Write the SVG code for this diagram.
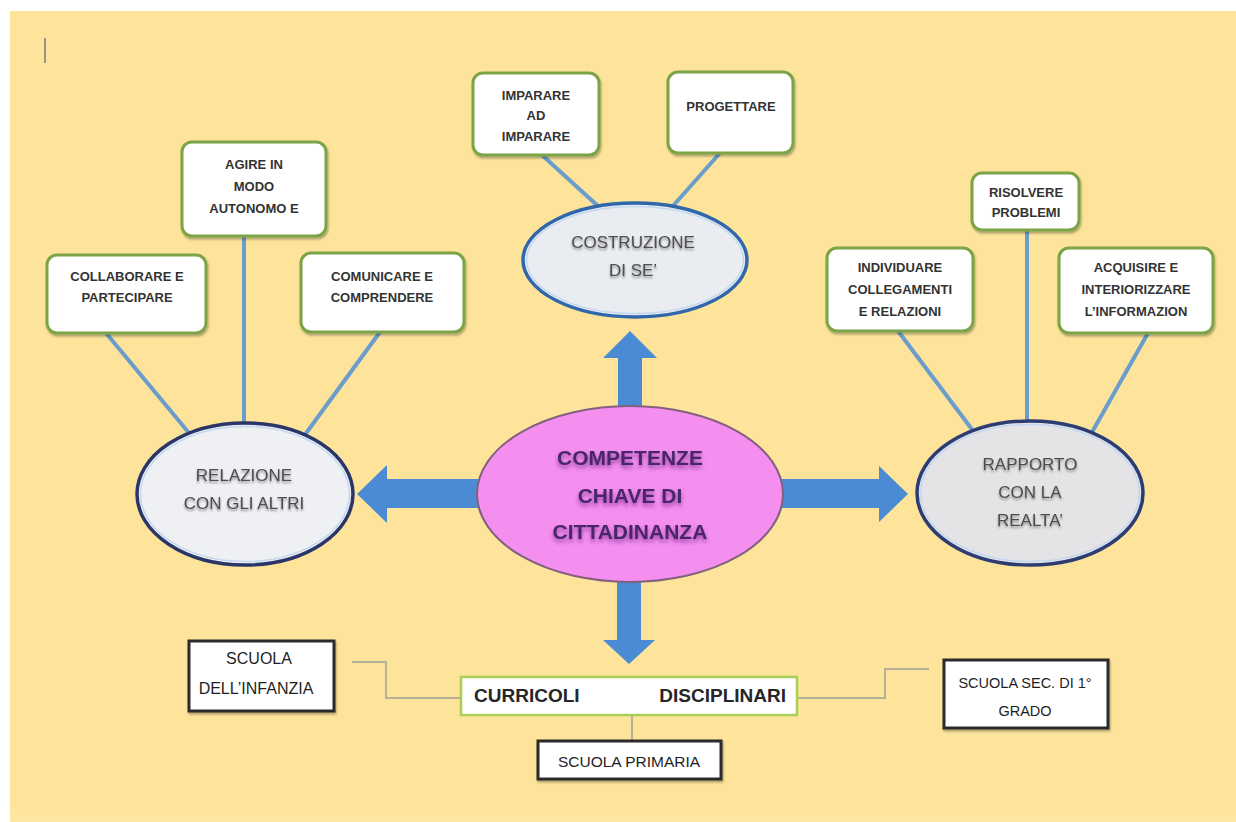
<svg xmlns="http://www.w3.org/2000/svg" width="1236" height="822" viewBox="0 0 1236 822">
  <style>
    text { font-family: "Liberation Sans", Arial, sans-serif; text-anchor: middle; }
    .bx { fill: #ffffff; stroke: #7BA446; stroke-width: 3; }
    .bt { font-size: 13px; font-weight: bold; fill: #333333; }
    .et { font-size: 17px; fill: #4e4e4e; }
    .ct { font-size: 21px; font-weight: bold; fill: #4A2869; }
    .sb { fill: #ffffff; stroke: #2a2a2a; stroke-width: 3; }
    .st { font-size: 16px; fill: #1e1e1e; }
    .ln { stroke: #6A9DCC; stroke-width: 4; fill: none; stroke-linecap: butt; }
    .gl { stroke: #B6B09A; stroke-width: 2; fill: none; }
    .ar { fill: #4A8BD3; }
  </style>
  <defs>
    <filter id="sh" x="-10%" y="-10%" width="130%" height="140%">
      <feDropShadow dx="1" dy="2" stdDeviation="1.2" flood-color="#000" flood-opacity="0.3"/>
    </filter>
    <filter id="tsh" x="-10%" y="-30%" width="120%" height="180%">
      <feDropShadow dx="0" dy="2" stdDeviation="1.3" flood-color="#777" flood-opacity="0.8"/>
    </filter>
    <filter id="csh" x="-10%" y="-30%" width="120%" height="180%">
      <feDropShadow dx="0" dy="3" stdDeviation="2" flood-color="#7A2C8E" flood-opacity="0.75"/>
    </filter>
  </defs>

  <rect x="0" y="0" width="1236" height="822" fill="#ffffff"/>
  <rect x="10" y="11" width="1226" height="811" fill="#FDE49A"/>
  <rect x="10" y="810" width="1226" height="12" fill="#FEE6A0"/>
  <line x1="45" y1="38" x2="45" y2="63" stroke="#7a7a7a" stroke-width="1.5"/>

  <g id="connectors">
    <line class="ln" x1="106" y1="333" x2="189" y2="433"/>
    <line class="ln" x1="244" y1="236" x2="244" y2="424"/>
    <line class="ln" x1="380" y1="332" x2="304" y2="436"/>
    <line class="ln" x1="542" y1="155" x2="599" y2="207"/>
    <line class="ln" x1="720" y1="153" x2="672" y2="207"/>
    <line class="ln" x1="898" y1="331" x2="974" y2="432"/>
    <line class="ln" x1="1027" y1="230" x2="1027" y2="422"/>
    <line class="ln" x1="1148" y1="333" x2="1091" y2="434"/>
    <polygon class="ar" points="357,494 387,465 387,479 485,479 485,508 387,508 387,523"/>
    <polygon class="ar" points="775,479 879,479 879,466 908,494 879,522 879,508 775,508"/>
    <polygon class="ar" points="630,331 657,358 642,358 642,415 618,415 618,358 603,358"/>
    <polygon class="ar" points="617,575 641,575 641,640 655,640 629,664 603,640 617,640"/>
    <polyline class="gl" points="352,662 386,662 386,698 461,698"/>
    <polyline class="gl" points="797,698 885,698 885,669 929,669"/>
    <line class="gl" x1="632" y1="715" x2="632" y2="741"/>
  </g>

  <g id="collaborare">
    <rect class="bx" x="47" y="255" width="159" height="78" rx="10" filter="url(#sh)"/>
    <text class="bt" x="127" y="281">COLLABORARE E</text>
    <text class="bt" x="127" y="302">PARTECIPARE</text>
  </g>
  <g id="agire">
    <rect class="bx" x="182" y="142" width="144" height="94" rx="10" filter="url(#sh)"/>
    <text class="bt" x="254" y="169">AGIRE IN</text>
    <text class="bt" x="254" y="191">MODO</text>
    <text class="bt" x="254" y="213">AUTONOMO E</text>
  </g>
  <g id="comunicare">
    <rect class="bx" x="301" y="253" width="163" height="79" rx="10" filter="url(#sh)"/>
    <text class="bt" x="382" y="281">COMUNICARE E</text>
    <text class="bt" x="382" y="302">COMPRENDERE</text>
  </g>
  <g id="imparare">
    <rect class="bx" x="473" y="73" width="126" height="82" rx="10" filter="url(#sh)"/>
    <text class="bt" x="536" y="100">IMPARARE</text>
    <text class="bt" x="536" y="120">AD</text>
    <text class="bt" x="536" y="141">IMPARARE</text>
  </g>
  <g id="progettare">
    <rect class="bx" x="668" y="72" width="125" height="81" rx="10" filter="url(#sh)"/>
    <text class="bt" x="731" y="111">PROGETTARE</text>
  </g>
  <g id="individuare">
    <rect class="bx" x="827" y="248" width="146" height="83" rx="10" filter="url(#sh)"/>
    <text class="bt" x="900" y="272">INDIVIDUARE</text>
    <text class="bt" x="900" y="294">COLLEGAMENTI</text>
    <text class="bt" x="900" y="316">E RELAZIONI</text>
  </g>
  <g id="risolvere">
    <rect class="bx" x="972" y="173" width="107" height="57" rx="10" filter="url(#sh)"/>
    <text class="bt" x="1026" y="197">RISOLVERE</text>
    <text class="bt" x="1026" y="217">PROBLEMI</text>
  </g>
  <g id="acquisire">
    <rect class="bx" x="1059" y="248" width="154" height="85" rx="10" filter="url(#sh)"/>
    <text class="bt" x="1136" y="272">ACQUISIRE E</text>
    <text class="bt" x="1136" y="294">INTERIORIZZARE</text>
    <text class="bt" x="1136" y="316">L’INFORMAZION</text>
  </g>

  <g id="relazione">
    <ellipse cx="245" cy="494" rx="108" ry="71" fill="#EEF0F4" stroke="#2B3668" stroke-width="3.5"/>
    <ellipse cx="245" cy="494" rx="104.5" ry="67.5" fill="none" stroke="#C3D8F0" stroke-width="1.5"/>
    <g filter="url(#tsh)">
      <text class="et" x="244" y="481">RELAZIONE</text>
      <text class="et" x="244" y="509">CON GLI ALTRI</text>
    </g>
  </g>
  <g id="costruzione">
    <ellipse cx="635" cy="260" rx="112" ry="57" fill="#E9ECF0" stroke="#2F67AA" stroke-width="3.5"/>
    <ellipse cx="635" cy="260" rx="108.5" ry="53.5" fill="none" stroke="#C3D8F0" stroke-width="1.5"/>
    <g filter="url(#tsh)">
      <text class="et" x="633" y="248">COSTRUZIONE</text>
      <text class="et" x="633" y="276">DI SE’</text>
    </g>
  </g>
  <g id="competenze">
    <ellipse cx="630" cy="494" rx="153" ry="88" fill="#F48FEF" stroke="#84607F" stroke-width="2"/>
    <g filter="url(#csh)">
      <text class="ct" x="630" y="465">COMPETENZE</text>
      <text class="ct" x="630" y="503">CHIAVE DI</text>
      <text class="ct" x="630" y="539">CITTADINANZA</text>
    </g>
  </g>
  <g id="rapporto">
    <ellipse cx="1030" cy="493" rx="113" ry="72" fill="#E4E4E7" stroke="#2D3D73" stroke-width="3.5"/>
    <ellipse cx="1030" cy="493" rx="109.5" ry="68.5" fill="none" stroke="#C3D8F0" stroke-width="1.5"/>
    <g filter="url(#tsh)">
      <text class="et" x="1030" y="470">RAPPORTO</text>
      <text class="et" x="1030" y="498">CON LA</text>
      <text class="et" x="1030" y="526">REALTA’</text>
    </g>
  </g>

  <g id="curricoli">
    <rect x="461" y="677" width="336" height="38" fill="#ffffff" stroke="#A9CF55" stroke-width="2.5"/>
    <text x="474" y="702" style="text-anchor:start;font-size:19px;font-weight:bold;fill:#262626">CURRICOLI</text>
    <text x="786" y="702" style="text-anchor:end;font-size:19px;font-weight:bold;fill:#262626">DISCIPLINARI</text>
  </g>
  <g id="infanzia">
    <rect class="sb" x="189" y="641" width="145" height="70" filter="url(#sh)"/>
    <text class="st" x="259" y="664">SCUOLA</text>
    <text class="st" x="256" y="694">DELL’INFANZIA</text>
  </g>
  <g id="secondaria">
    <rect class="sb" x="944" y="660" width="164" height="68" filter="url(#sh)"/>
    <text class="st" x="1025" y="688" style="font-size:14.5px">SCUOLA SEC. DI 1°</text>
    <text class="st" x="1025" y="716" style="font-size:14.5px">GRADO</text>
  </g>
  <g id="primaria">
    <rect class="sb" x="538" y="741" width="183" height="38" filter="url(#sh)"/>
    <text class="st" x="629" y="767" style="font-size:15.5px">SCUOLA PRIMARIA</text>
  </g>
</svg>
